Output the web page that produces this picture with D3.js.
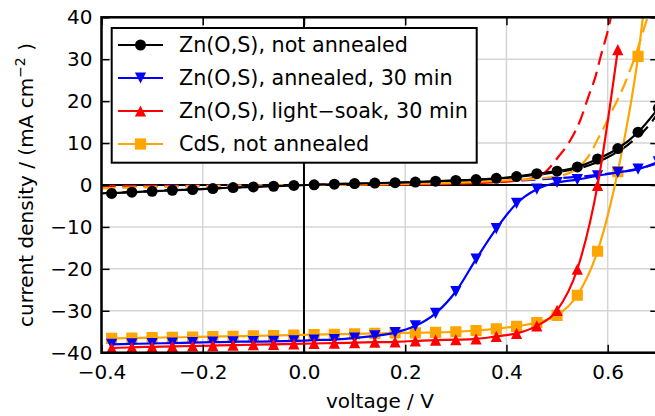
<!DOCTYPE html>
<html><head><meta charset="utf-8">
<script src="https://cdn.jsdelivr.net/npm/d3@7"></script>
<style>body{margin:0;background:#fff} svg{font-family:"DejaVu Sans",sans-serif;display:block}</style>
</head><body><svg id="c" width="655" height="416"></svg>
<script>
// ---- data ----
const voltage = [-0.38,-0.34,-0.30,-0.26,-0.22,-0.18,-0.14,-0.10,-0.06,-0.02,0.02,0.06,0.10,0.14,0.18,0.22,0.26,0.30,0.34,0.38,0.42,0.46,0.50,0.54,0.58,0.62,0.66,0.70];
const jNotAnnealed = [-2.0,-1.7,-1.5,-1.25,-1.1,-0.85,-0.6,-0.45,-0.3,-0.1,0.05,0.2,0.35,0.45,0.55,0.7,0.9,1.1,1.3,1.6,2.0,2.7,3.3,4.3,6.2,8.7,12.6,18.3];
const jAnnealed = [-38.0,-37.9,-37.8,-37.7,-37.6,-37.5,-37.4,-37.35,-37.3,-37.2,-37.0,-36.9,-36.5,-36.0,-35.2,-33.6,-30.6,-25.4,-17.7,-10.4,-4.4,-1.0,0.6,1.3,2.2,3.0,3.8,5.5];
const jLightSoak = [-38.9,-38.7,-38.6,-38.5,-38.4,-38.3,-38.2,-38.1,-38.0,-37.9,-37.8,-37.7,-37.6,-37.5,-37.4,-37.2,-37.0,-36.9,-36.7,-36.1,-35.4,-33.6,-29.9,-20.1,-0.1,32.3];
const jCdS = [-36.6,-36.5,-36.4,-36.35,-36.25,-36.15,-36.1,-36.0,-35.9,-35.8,-35.7,-35.6,-35.5,-35.4,-35.3,-35.25,-35.15,-35.0,-34.7,-34.3,-33.7,-32.8,-31.1,-26.3,-15.8,3.2,30.7,75];

// dark (dashed) curves
const darkNotAnnealedV = [-0.4,-0.2,0,0.2,0.4,0.5,0.55,0.6,0.64,0.68,0.72];
const darkNotAnnealedJ = [-2.0,-0.9,0.0,0.6,1.7,3.1,4.2,6.6,9.6,14.0,21.0];
const darkAnnealedV = [-0.4,-0.2,0,0.2,0.3,0.41,0.5,0.58,0.64,0.7,0.72];
const darkAnnealedJ = [-0.3,-0.1,0,0.2,0.4,1.0,1.6,2.4,3.4,5.2,6.0];
const darkLightSoakV = [-0.4,-0.2,0,0.2,0.3,0.4,0.45,0.474,0.503,0.523,0.546,0.562,0.576,0.586,0.599,0.61];
const darkLightSoakJ = [-0.3,-0.15,0,0.1,0.3,0.8,1.6,2.8,6.8,10.0,15.5,21.1,25.9,30.6,36.2,42];
const darkCdSV = [-0.4,-0.3,-0.2,-0.1,0,0.1,0.2,0.28,0.35,0.41,0.46,0.507,0.533,0.56,0.585,0.61,0.635,0.655,0.68,0.7];
const darkCdSJ = [-0.8,-0.5,-0.25,-0.1,0,0.1,0.25,0.45,0.8,1.2,1.5,2.2,3.4,6.5,12,18,24.5,31,40.5,48];

const seriesNames = ["Zn(O,S), not annealed","Zn(O,S), annealed, 30 min","Zn(O,S), light\u2212soak, 30 min","CdS, not annealed"];
const seriesColors = ["#000000","#0000ff","#ff0000","#ffa500"];
const seriesMarkers = ["circle","tridown","triup","square"];
const xTicks = [-0.4,-0.2,0.0,0.2,0.4,0.6];
const yTicks = [-40,-30,-20,-10,0,10,20,30,40];

// ---- layout ----
const svg = d3.select("#c");
const L=101.5, R=658.3, T=17.3, B=352.7;
const x = d3.scaleLinear().domain([-0.4,0.7]).range([L,R]);
const y = d3.scaleLinear().domain([-40,40]).range([B,T]);
const fmt = (d,dec)=>{const s=dec?Math.abs(d).toFixed(1):String(Math.abs(d)); return (d<0?"\u2212":"")+s;};

svg.append("defs").append("clipPath").attr("id","clip").append("rect")
  .attr("x",L).attr("y",T).attr("width",R-L).attr("height",B-T);

// grid
const grid = svg.append("g").attr("stroke","#d6d6d6").attr("stroke-width",1.5);
xTicks.forEach(v=>grid.append("line").attr("x1",x(v)).attr("x2",x(v)).attr("y1",T).attr("y2",B));
yTicks.forEach(v=>grid.append("line").attr("x1",L).attr("x2",R).attr("y1",y(v)).attr("y2",y(v)));
// zero lines
svg.append("line").attr("x1",x(0)).attr("x2",x(0)).attr("y1",T).attr("y2",B).attr("stroke","#000").attr("stroke-width",2);
svg.append("line").attr("x1",L).attr("x2",R).attr("y1",y(0)).attr("y2",y(0)).attr("stroke","#000").attr("stroke-width",2);

const plot = svg.append("g").attr("clip-path","url(#clip)");
const line = d3.line().x(d=>x(d[0])).y(d=>y(d[1])).curve(d3.curveMonotoneX);

// dashed dark curves
const darks = [[darkNotAnnealedV,darkNotAnnealedJ,0],[darkAnnealedV,darkAnnealedJ,1],[darkLightSoakV,darkLightSoakJ,2],[darkCdSV,darkCdSJ,3]];
darks.forEach(([vs,js,i])=>{
  plot.append("path").attr("d",line(vs.map((v,k)=>[v,js[k]])))
    .attr("fill","none").attr("stroke",seriesColors[i]).attr("stroke-width",2.2)
    .attr("stroke-dasharray","14,7");
});

function markerPath(type){
  const s=5.6;
  if(type==="triup") return `M0,${-s}L${s},${s}L${-s},${s}Z`;
  if(type==="tridown") return `M0,${s}L${s},${-s}L${-s},${-s}Z`;
  if(type==="square") return `M${-s},${-s}H${s}V${s}H${-s}Z`;
  return d3.symbol(d3.symbolCircle, Math.PI*5.5*5.5)();
}

const lights = [jNotAnnealed,jAnnealed,jLightSoak,jCdS];
const order = [3,0,1,2];
order.forEach(i=>{
  const pts = lights[i].map((j,k)=>[voltage[k],j]);
  plot.append("path").attr("d",line(pts)).attr("fill","none")
    .attr("stroke",seriesColors[i]).attr("stroke-width",2.2);
  plot.selectAll(null).data(pts).enter().append("path")
    .attr("d",markerPath(seriesMarkers[i]))
    .attr("transform",d=>`translate(${x(d[0])},${y(d[1])})`)
    .attr("fill",seriesColors[i]);
});

// axes
const axStyle = g=>{g.select(".domain").remove(); g.selectAll(".tick line").attr("stroke","#000").attr("stroke-width",1.5);
  g.selectAll("text").attr("font-size",20).attr("fill","#000").attr("font-family","DejaVu Sans");};
svg.append("g").attr("transform",`translate(${L},0)`)
  .call(d3.axisLeft(y).tickValues(yTicks).tickSize(-8).tickPadding(9).tickFormat(d=>fmt(d,false))).call(axStyle);
svg.append("g").attr("transform",`translate(0,${B})`)
  .call(d3.axisBottom(x).tickValues(xTicks).tickSize(-8).tickPadding(12).tickFormat(d=>fmt(d,true))).call(axStyle);
svg.append("g").attr("transform",`translate(${R},0)`)
  .call(d3.axisRight(y).tickValues(yTicks).tickSize(-8).tickFormat("")).call(axStyle);
svg.append("g").attr("transform",`translate(0,${T})`)
  .call(d3.axisTop(x).tickValues(xTicks).tickSize(-8).tickFormat("")).call(axStyle);

// spines
svg.append("rect").attr("x",L).attr("y",T).attr("width",R-L).attr("height",B-T)
  .attr("fill","none").attr("stroke","#000").attr("stroke-width",2.5);

// labels
svg.append("text").attr("x",(L+R)/2).attr("y",408).attr("text-anchor","middle")
  .attr("font-size",20).text("voltage / V");
const yl = svg.append("text").attr("transform",`translate(33,${(T+B)/2}) rotate(-90)`)
  .attr("text-anchor","middle").attr("font-size",20);
yl.append("tspan").text("current density / (mA cm");
yl.append("tspan").attr("font-size",14).attr("dy",-8).text("\u22122");
yl.append("tspan").attr("dy",8).text(" )");

// legend
const lg = svg.append("g");
lg.append("rect").attr("x",111.7).attr("y",28).attr("width",365).attr("height",134.7)
  .attr("fill","#fff").attr("stroke","#000").attr("stroke-width",2);
const rows=[45,78,111,144];
seriesNames.forEach((n,i)=>{
  lg.append("line").attr("x1",118).attr("x2",163).attr("y1",rows[i]).attr("y2",rows[i])
    .attr("stroke",seriesColors[i]).attr("stroke-width",2.2);
  lg.append("path").attr("d",markerPath(seriesMarkers[i])).attr("transform",`translate(140.5,${rows[i]})`)
    .attr("fill",seriesColors[i]);
  lg.append("text").attr("x",179).attr("y",rows[i]).attr("dy","0.36em").attr("font-size",20.7).text(n);
});
</script></body></html>
